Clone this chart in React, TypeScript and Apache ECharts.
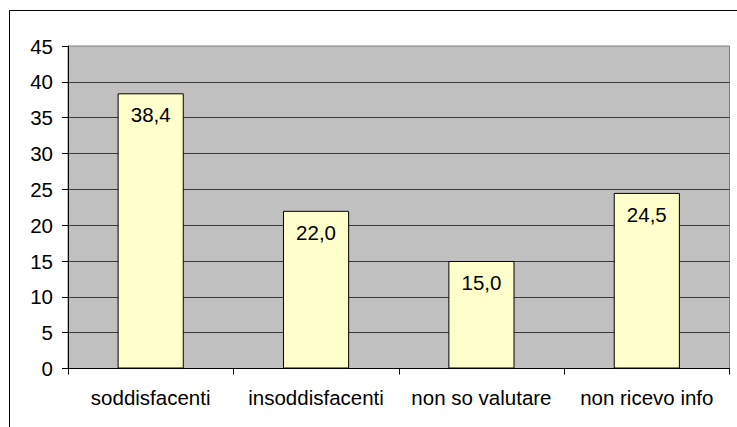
import React, { useEffect, useRef } from "react";
import * as echarts from "echarts";

const categories = ["soddisfacenti", "insoddisfacenti", "non so valutare", "non ricevo info"];
const values = [38.4, 22.0, 15.0, 24.5];
const yMin = 0;
const yMax = 45;
const yInterval = 5;

const FONT = "'Liberation Sans', Arial, sans-serif";

export default function App() {
  const ref = useRef<HTMLDivElement>(null);
  useEffect(() => {
    document.body.style.margin = "0";
    const chart = echarts.init(ref.current!, null, { renderer: "svg" });
    chart.setOption({
      animation: false,
      backgroundColor: "#ffffff",
      textStyle: { fontFamily: FONT },
      graphic: [
        {
          type: "rect",
          shape: { x: 9.5, y: 10.5, width: 1000, height: 1000 },
          style: { fill: "none", stroke: "#000", lineWidth: 1 },
          silent: true,
          z: 0,
        },
      ],
      grid: {
        left: 68,
        top: 46,
        right: 7.5,
        bottom: 58.5,
        show: true,
        backgroundColor: "#C0C0C0",
        borderColor: "#808080",
        borderWidth: 1,
      },
      xAxis: {
        type: "category",
        data: categories,
        axisLine: { show: true, lineStyle: { color: "#000", width: 1 } },
        axisTick: { show: true, alignWithLabel: false, length: 6, lineStyle: { color: "#000" } },
        axisLabel: { color: "#000", fontSize: 20.5, fontFamily: FONT, margin: 18, interval: 0 },
        splitLine: { show: false },
      },
      yAxis: {
        type: "value",
        min: yMin,
        max: yMax,
        interval: yInterval,
        axisLine: { show: true, lineStyle: { color: "#000", width: 1 } },
        axisTick: { show: true, length: 6, lineStyle: { color: "#000" } },
        axisLabel: { color: "#000", fontSize: 20.5, fontFamily: FONT, margin: 15 },
        splitLine: { show: true, showMaxLine: false, lineStyle: { color: "#3a3a3a", width: 1 } },
      },
      series: [
        {
          type: "bar",
          data: values,
          barWidth: "40%",
          itemStyle: { color: "#FFFFCC", borderColor: "#000", borderWidth: 1 },
          label: {
            show: true,
            position: "insideTop",
            distance: 11,
            color: "#000",
            fontSize: 20.5,
            fontFamily: FONT,
            formatter: (p: any) => Number(p.value).toFixed(1).replace(".", ","),
          },
        },
      ],
    });
    return () => chart.dispose();
  }, []);
  return (
    <div
      ref={ref}
      style={{ position: "absolute", left: 0, top: 0, width: 737, height: 427 }}
    />
  );
}
